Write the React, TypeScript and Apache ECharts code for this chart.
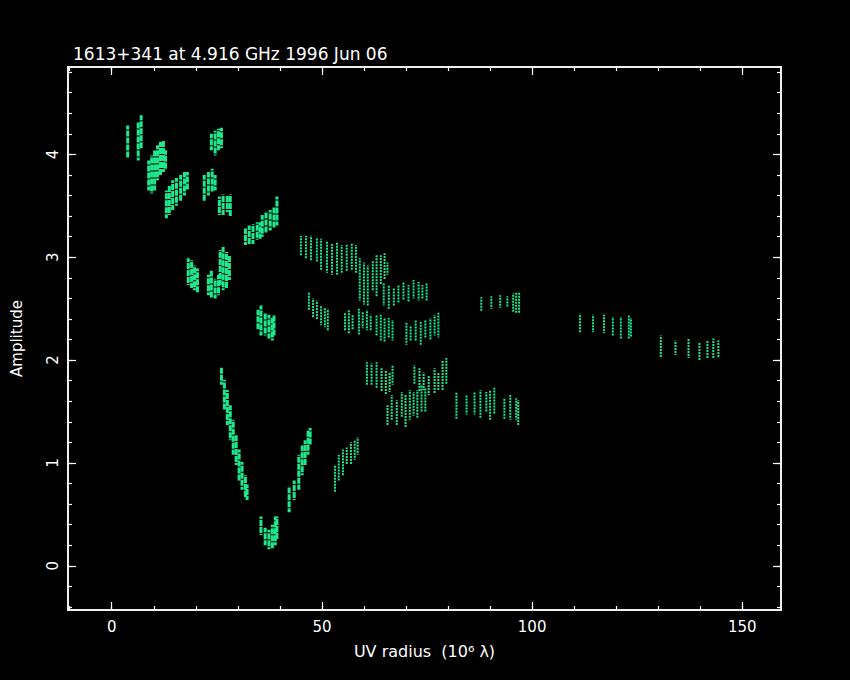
import React, { useEffect, useRef } from 'react';
import * as echarts from 'echarts';

const TITLE = '1613+341 at 4.916 GHz 1996 Jun 06';
const X_NAME = 'UV radius  (10\u2076 \u03bb)';
const Y_NAME = 'Amplitude';

const X_MIN = -10.4;
const X_MAX = 159.2;
const Y_MIN = -0.43;
const Y_MAX = 4.85;

const X_MAJOR = [0, 50, 100, 150];
const X_MINOR = [-10, 0, 10, 20, 30, 40, 50, 60, 70, 80, 90, 100, 110, 120, 130, 140, 150];
const Y_MAJOR = [0, 1, 2, 3, 4];
const Y_MINOR = [-0.4, -0.2, 0, 0.2, 0.4, 0.6, 0.8, 1, 1.2, 1.4, 1.6, 1.8, 2, 2.2, 2.4, 2.6, 2.8, 3, 3.2, 3.4, 3.6, 3.8, 4, 4.2, 4.4, 4.6, 4.8];

// Each entry: [uv radius, amplitude low, amplitude high] of one vertical streak of visibilities
const clusterA = [[3.8, 3.97, 4.28], [6.3, 3.94, 4.31], [7.0, 4.05, 4.38]];
const clusterB = [[8.8, 3.65, 3.94], [9.5, 3.62, 3.99], [10.2, 3.65, 4.04], [10.9, 3.75, 4.09], [11.6, 3.8, 4.12], [12.3, 3.83, 4.14], [12.8, 3.85, 4.04]];
const clusterC = [[13.0, 3.38, 3.65], [13.7, 3.41, 3.7], [14.5, 3.46, 3.75], [15.4, 3.5, 3.77], [16.4, 3.55, 3.8], [17.3, 3.6, 3.83], [18.0, 3.65, 3.83]];
const clusterD = [[23.7, 4.04, 4.2], [24.6, 3.99, 4.23], [25.4, 4.04, 4.25], [26.1, 4.06, 4.26]];
const clusterE = [[22.0, 3.55, 3.8], [23.0, 3.6, 3.83], [23.9, 3.63, 3.86], [24.6, 3.65, 3.8]];
const clusterF = [[25.6, 3.41, 3.59], [26.5, 3.41, 3.61], [27.5, 3.44, 3.6], [28.2, 3.4, 3.61]];
const clusterG = [[31.8, 3.12, 3.28], [32.7, 3.12, 3.31], [33.6, 3.13, 3.32], [34.6, 3.17, 3.34], [35.3, 3.18, 3.34]];
const clusterH = [[35.8, 3.2, 3.41], [36.7, 3.24, 3.44], [37.7, 3.26, 3.46], [38.6, 3.28, 3.49], [39.3, 3.31, 3.59]];
const clusterI = [[18.2, 2.73, 2.99], [19.0, 2.7, 2.97], [19.7, 2.68, 2.92], [20.4, 2.66, 2.89]];
const clusterJ = [[23.0, 2.63, 2.83], [23.7, 2.6, 2.87], [24.6, 2.6, 2.79], [25.4, 2.63, 2.83]];
const clusterK = [[25.8, 2.73, 3.07], [26.5, 2.68, 3.1], [27.3, 2.7, 3.05], [28.0, 2.78, 3.02]];
const clusterL = [[34.8, 2.29, 2.49], [35.5, 2.24, 2.53], [36.5, 2.24, 2.46], [37.4, 2.21, 2.44], [38.2, 2.19, 2.41], [38.6, 2.24, 2.44]];
const vLeft = [[26.1, 1.76, 1.93], [26.8, 1.51, 1.81], [27.5, 1.37, 1.71], [28.2, 1.22, 1.56], [28.9, 1.08, 1.42], [29.6, 0.98, 1.27], [30.3, 0.83, 1.13], [31.0, 0.74, 1.01], [31.8, 0.66, 0.88], [32.2, 0.64, 0.79]];
const vBottom = [[35.5, 0.3, 0.48], [36.5, 0.2, 0.37], [37.4, 0.16, 0.35], [38.2, 0.17, 0.4], [38.9, 0.2, 0.48], [39.3, 0.25, 0.48]];
const vRight = [[42.2, 0.52, 0.76], [43.4, 0.64, 0.83], [44.5, 0.74, 1.08], [45.3, 0.88, 1.17], [46.0, 0.98, 1.22], [46.7, 1.08, 1.32], [47.2, 1.17, 1.34]];

const cluster11 = [[53.1, 0.72, 0.98], [54.0, 0.83, 1.08], [55.0, 0.88, 1.13], [55.9, 0.98, 1.15], [56.9, 0.98, 1.2], [57.8, 1.03, 1.22], [58.5, 1.08, 1.25]];
const cluster30 = [[45.0, 3.02, 3.21], [46.2, 2.99, 3.21], [47.4, 2.97, 3.21], [48.8, 2.95, 3.19], [49.8, 2.87, 3.18], [51.2, 2.85, 3.15], [52.4, 2.83, 3.13], [53.6, 2.83, 3.14], [54.7, 2.85, 3.12], [55.9, 2.87, 3.12], [57.1, 2.87, 3.14], [58.1, 2.84, 3.12]];
const cluster28 = [[59.0, 2.58, 2.99], [60.0, 2.54, 2.95], [60.9, 2.53, 2.92], [62.1, 2.68, 2.97], [63.0, 2.62, 3.02], [64.0, 2.73, 3.02], [64.9, 2.78, 3.04], [65.6, 2.83, 2.95]];
const cluster26 = [[64.7, 2.53, 2.75], [65.9, 2.5, 2.73], [67.1, 2.53, 2.7], [68.2, 2.56, 2.73], [69.4, 2.58, 2.76], [70.6, 2.56, 2.73], [71.8, 2.6, 2.78], [73.0, 2.58, 2.76], [73.9, 2.6, 2.73], [74.9, 2.58, 2.75]];
const cluster25 = [[46.9, 2.49, 2.66], [47.9, 2.41, 2.6], [48.8, 2.39, 2.58], [49.8, 2.34, 2.53], [50.7, 2.32, 2.51], [51.4, 2.29, 2.5]];
const cluster235 = [[55.5, 2.29, 2.46], [56.4, 2.26, 2.49], [57.3, 2.29, 2.44], [58.8, 2.24, 2.5], [59.7, 2.31, 2.47], [60.7, 2.29, 2.49], [61.6, 2.29, 2.44], [63.0, 2.24, 2.44], [64.0, 2.19, 2.44], [64.9, 2.17, 2.41], [65.9, 2.21, 2.41], [66.8, 2.19, 2.39]];
const cluster23 = [[70.1, 2.15, 2.37], [71.1, 2.19, 2.34], [72.3, 2.19, 2.39], [73.5, 2.15, 2.37], [74.6, 2.21, 2.39], [75.8, 2.19, 2.41], [76.8, 2.24, 2.44], [77.7, 2.22, 2.46]];
const cluster18a = [[60.7, 1.76, 1.98], [61.8, 1.76, 1.97], [63.0, 1.73, 1.98], [64.2, 1.69, 1.92], [65.2, 1.66, 1.9], [66.1, 1.69, 1.88], [66.8, 1.76, 1.95]];
const cluster15a = [[65.6, 1.37, 1.56], [66.6, 1.42, 1.66], [67.8, 1.37, 1.61], [69.0, 1.44, 1.69], [69.9, 1.34, 1.66], [70.9, 1.42, 1.71], [71.8, 1.46, 1.69], [72.7, 1.44, 1.71], [73.7, 1.5, 1.76], [74.6, 1.5, 1.73]];
const cluster18b = [[72.0, 1.76, 1.95], [73.2, 1.69, 1.92], [74.2, 1.71, 1.88], [75.4, 1.66, 1.85], [76.8, 1.68, 1.92], [77.7, 1.71, 1.88], [78.7, 1.71, 2.0], [79.6, 1.76, 2.02]];
const cluster255 = [[87.9, 2.47, 2.61], [90.3, 2.5, 2.62], [92.4, 2.51, 2.63], [94.1, 2.52, 2.62], [95.5, 2.47, 2.65], [96.2, 2.46, 2.66], [96.9, 2.45, 2.66]];
const cluster235b = [[111.4, 2.26, 2.45], [114.5, 2.27, 2.44], [117.1, 2.26, 2.44], [119.2, 2.24, 2.42], [121.1, 2.21, 2.42], [123.0, 2.21, 2.44], [123.5, 2.22, 2.41]];
const cluster21 = [[130.6, 2.02, 2.24], [134.1, 2.05, 2.19], [137.2, 2.02, 2.21], [139.8, 2.0, 2.17], [141.7, 2.02, 2.19], [143.1, 2.02, 2.21], [144.3, 2.02, 2.19]];
const cluster155 = [[82.0, 1.42, 1.69], [84.4, 1.47, 1.66], [86.3, 1.47, 1.69], [87.7, 1.44, 1.71], [89.1, 1.5, 1.69], [90.0, 1.42, 1.71], [91.0, 1.47, 1.73], [93.4, 1.42, 1.63], [94.8, 1.42, 1.66], [96.2, 1.42, 1.63], [96.7, 1.37, 1.61]];

const DENSE = [
  ...clusterA, ...clusterB, ...clusterC, ...clusterD, ...clusterE, ...clusterF,
  ...clusterG, ...clusterH, ...clusterI, ...clusterJ, ...clusterK, ...clusterL,
  ...vLeft, ...vBottom, ...vRight,
];
const SPARSE = [
  ...cluster11, ...cluster30, ...cluster28, ...cluster26, ...cluster25, ...cluster235,
  ...cluster23, ...cluster18a, ...cluster15a, ...cluster18b, ...cluster255,
  ...cluster235b, ...cluster21, ...cluster155,
];

const GREEN = '#1ee88e';
const WHITE = '#ffffff';
const FONT = 'DejaVu Sans';

function streakSeries(data: number[][], width: number, dash: number[]) {
  return {
    type: 'custom',
    xAxisIndex: 0,
    yAxisIndex: 0,
    data,
    encode: { x: 0, y: [1, 2] },
    renderItem: (params: any, api: any) => {
      const p0 = api.coord([api.value(0), api.value(1)]);
      const p1 = api.coord([api.value(0), api.value(2)]);
      return {
        type: 'line',
        shape: { x1: p0[0], y1: p0[1], x2: p1[0], y2: p1[1] },
        style: { stroke: GREEN, lineWidth: width, lineDash: dash, lineDashOffset: (params.dataIndex * 3) % 7 },
      };
    },
  };
}

export default function App() {
  const ref = useRef<HTMLDivElement>(null);
  useEffect(() => {
    document.body.style.margin = '0';
    document.body.style.background = '#000000';
    if (!ref.current) return;
    const chart = echarts.init(ref.current, null, { renderer: 'svg' });
    const line = { show: true, onZero: false, lineStyle: { color: WHITE, width: 1.5 } };
    const noSplit = { show: false };
    const xBase = { type: 'value', min: X_MIN, max: X_MAX, splitLine: noSplit, axisLine: line };
    const yBase = { type: 'value', min: Y_MIN, max: Y_MAX, splitLine: noSplit, axisLine: line };
    const major = { show: true, inside: true, length: 8, lineStyle: { color: WHITE, width: 1.2 } };
    const minor = { show: true, inside: true, length: 4, lineStyle: { color: WHITE, width: 1.2 } };
    chart.setOption({
      animation: false,
      backgroundColor: '#000000',
      title: {
        text: TITLE,
        left: 68,
        top: 40,
        textStyle: { color: WHITE, fontSize: 17, fontWeight: 'normal', fontFamily: FONT },
      },
      grid: [
        { left: 68, right: 69, top: 67, bottom: 70 },
        { left: 68, right: 69, top: 67, bottom: 70 },
      ],
      xAxis: [
        {
          ...xBase, gridIndex: 0, position: 'bottom',
          axisTick: { ...major, customValues: X_MAJOR },
          axisLabel: { customValues: X_MAJOR, color: WHITE, fontSize: 15, fontFamily: FONT, margin: 9 },
          name: X_NAME, nameLocation: 'middle', nameGap: 33,
          nameTextStyle: { color: WHITE, fontSize: 16, fontFamily: FONT },
        },
        { ...xBase, gridIndex: 0, position: 'top', axisTick: { ...major, customValues: X_MAJOR }, axisLabel: { show: false } },
        { ...xBase, gridIndex: 1, position: 'bottom', axisTick: { ...minor, customValues: X_MINOR }, axisLabel: { show: false } },
        { ...xBase, gridIndex: 1, position: 'top', axisTick: { ...minor, customValues: X_MINOR }, axisLabel: { show: false } },
      ],
      yAxis: [
        {
          ...yBase, gridIndex: 0, position: 'left',
          axisTick: { ...major, customValues: Y_MAJOR },
          axisLabel: { customValues: Y_MAJOR, color: WHITE, fontSize: 15, fontFamily: FONT, rotate: 90, margin: 8 },
          name: Y_NAME, nameLocation: 'middle', nameGap: 44, nameRotate: 90,
          nameTextStyle: { color: WHITE, fontSize: 15, fontFamily: FONT },
        },
        { ...yBase, gridIndex: 0, position: 'right', axisTick: { ...major, customValues: Y_MAJOR }, axisLabel: { show: false } },
        { ...yBase, gridIndex: 1, position: 'left', axisTick: { ...minor, customValues: Y_MINOR }, axisLabel: { show: false } },
        { ...yBase, gridIndex: 1, position: 'right', axisTick: { ...minor, customValues: Y_MINOR }, axisLabel: { show: false } },
      ],
      series: [
        streakSeries(DENSE, 3, [6, 1]),
        streakSeries(SPARSE, 2, [2, 1]),
      ],
    });
    return () => chart.dispose();
  }, []);
  return <div ref={ref} style={{ width: 850, height: 680 }} />;
}
